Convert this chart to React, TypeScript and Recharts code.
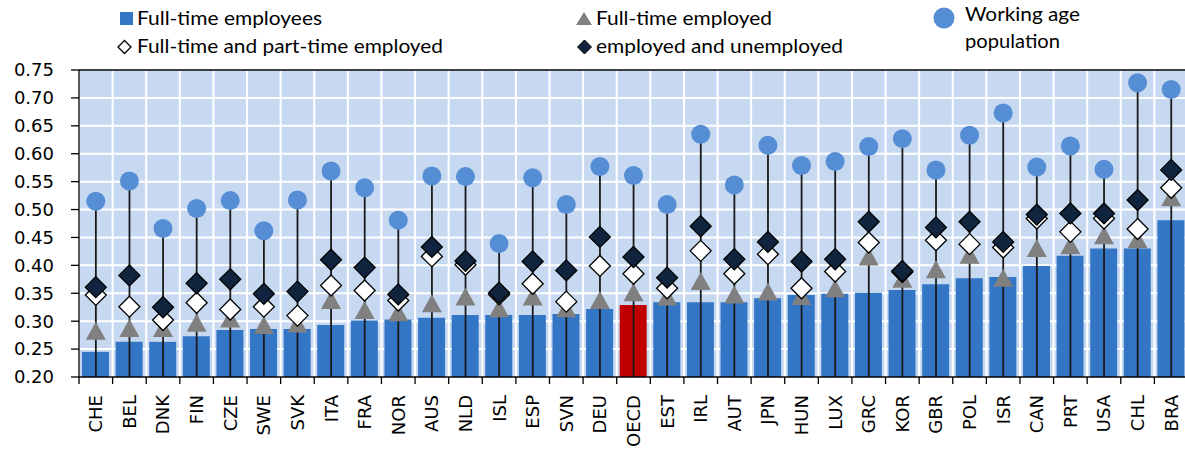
import React from "react";
import {
  Bar,
  CartesianGrid,
  Cell,
  ComposedChart,
  ReferenceLine,
  Scatter,
  XAxis,
  YAxis,
} from "recharts";

const countries = [
  "CHE", "BEL", "DNK", "FIN", "CZE", "SWE", "SVK", "ITA", "FRA", "NOR", "AUS",
  "NLD", "ISL", "ESP", "SVN", "DEU", "OECD", "EST", "IRL", "AUT", "JPN", "HUN",
  "LUX", "GRC", "KOR", "GBR", "POL", "ISR", "CAN", "PRT", "USA", "CHL", "BRA",
];

// Full-time employees (bars)
const fullTimeEmployees = [
  0.245, 0.263, 0.263, 0.273, 0.284, 0.286, 0.286, 0.293, 0.301, 0.303, 0.306,
  0.311, 0.311, 0.311, 0.313, 0.322, 0.329, 0.334, 0.334, 0.334, 0.341, 0.347,
  0.349, 0.351, 0.356, 0.366, 0.377, 0.379, 0.399, 0.417, 0.43, 0.43, 0.481,
];

// Full-time employed (triangles)
const fullTimeEmployed = [
  0.283, 0.288, 0.288, 0.297, 0.305, 0.293, 0.296, 0.338, 0.32, 0.316, 0.332,
  0.344, 0.323, 0.344, 0.323, 0.338, 0.352, 0.344, 0.372, 0.348, 0.353, 0.345,
  0.359, 0.416, 0.376, 0.393, 0.419, 0.378, 0.431, 0.436, 0.454, 0.447, 0.522,
];

// Full-time and part-time employed (white diamonds)
const allEmployed = [
  0.347, 0.326, 0.302, 0.333, 0.321, 0.326, 0.31, 0.364, 0.355, 0.337, 0.416,
  0.401, 0.348, 0.367, 0.335, 0.399, 0.385, 0.359, 0.426, 0.385, 0.42, 0.359,
  0.389, 0.441, 0.388, 0.445, 0.438, 0.432, 0.484, 0.46, 0.484, 0.465, 0.539,
];

// Employed and unemployed (dark diamonds)
const employedUnemployed = [
  0.361, 0.382, 0.325, 0.368, 0.375, 0.349, 0.353, 0.41, 0.396, 0.348, 0.433,
  0.408, 0.351, 0.407, 0.391, 0.451, 0.415, 0.378, 0.47, 0.411, 0.442, 0.407,
  0.411, 0.478, 0.39, 0.468, 0.478, 0.442, 0.491, 0.493, 0.493, 0.517, 0.571,
];

// Working age population (circles)
const workingAge = [
  0.515, 0.551, 0.466, 0.502, 0.516, 0.462, 0.517, 0.569, 0.539, 0.481, 0.56,
  0.559, 0.439, 0.557, 0.509, 0.577, 0.561, 0.509, 0.635, 0.544, 0.615, 0.579,
  0.586, 0.613, 0.627, 0.571, 0.633, 0.673, 0.576, 0.614, 0.572, 0.727, 0.715,
];

const yTicks = [0.2, 0.25, 0.3, 0.35, 0.4, 0.45, 0.5, 0.55, 0.6, 0.65, 0.7, 0.75];

const data = countries.map((name, i) => ({
  name,
  fte: fullTimeEmployees[i],
  fted: fullTimeEmployed[i],
  all: allEmployed[i],
  eu: employedUnemployed[i],
  wap: workingAge[i],
}));

const BAR_BLUE = "#3476C6";
const OECD_RED = "#C00000";
const CIRCLE_BLUE = "#558ED5";
const TRI_GREY = "#808080";
const NAVY = "#10243E";
const FONT = "'DejaVu Sans', sans-serif";
const LEGEND_FONT = "Lato, 'Open Sans', sans-serif";

function Stem(props: any) {
  const { x, y, width, height } = props;
  const cx = x + width / 2;
  return <line x1={cx} x2={cx} y1={y} y2={y + height} stroke="#1a1a1a" strokeWidth={1.8} />;
}

function Triangle({ cx, cy }: any) {
  return <polygon points={`${cx},${cy - 9} ${cx + 10},${cy + 9} ${cx - 10},${cy + 9}`} fill={TRI_GREY} />;
}

function Diamond({ cx, cy, fill }: any) {
  const r = 10.5;
  return (
    <polygon
      points={`${cx},${cy - r} ${cx + r},${cy} ${cx},${cy + r} ${cx - r},${cy}`}
      fill={fill}
      stroke="#000"
      strokeWidth={1.3}
    />
  );
}

function Dot({ cx, cy }: any) {
  return <circle cx={cx} cy={cy} r={9.5} fill={CIRCLE_BLUE} />;
}

function CountryTick(props: any) {
  const { x, y, payload, index } = props;
  const half = payload.offset ?? 0;
  return (
    <g>
      <line x1={x - half} x2={x - half} y1={y} y2={y + 7} stroke="#000" strokeWidth={1.3} />
      {index === countries.length - 1 && (
        <line x1={x + half} x2={x + half} y1={y} y2={y + 7} stroke="#000" strokeWidth={1.3} />
      )}
      <text
        x={x}
        y={y + 18}
        dy="0.36em"
        transform={`rotate(-90, ${x}, ${y + 18})`}
        textAnchor="end"
        fontFamily={FONT}
        fontSize={18}
        fill="#000"
      >
        {payload.value}
      </text>
    </g>
  );
}

function LegendBlock() {
  return (
    <svg width={1185} height={60} style={{ position: "absolute", left: 0, top: 0 }}>
      <rect x={120} y={12} width={13} height={13} fill={BAR_BLUE} />
      <text x={137} y={25} fontFamily={LEGEND_FONT} fontSize={19} fill="#000" textLength={185} lengthAdjust="spacingAndGlyphs">
        Full-time employees
      </text>
      <polygon points="124.5,40.5 131,47 124.5,53.5 118,47" fill="#fff" stroke="#000" strokeWidth={1.3} />
      <text x={137} y={53} fontFamily={LEGEND_FONT} fontSize={19} fill="#000" textLength={306} lengthAdjust="spacingAndGlyphs">
        Full-time and part-time employed
      </text>

      <polygon points="584,12 592,25 576,25" fill={TRI_GREY} />
      <text x={596} y={25} fontFamily={LEGEND_FONT} fontSize={19} fill="#000" textLength={176} lengthAdjust="spacingAndGlyphs">
        Full-time employed
      </text>
      <polygon points="584.5,40 591.5,47 584.5,54 577.5,47" fill={NAVY} stroke="#000" strokeWidth={1} />
      <text x={596} y={53} fontFamily={LEGEND_FONT} fontSize={19} fill="#000" textLength={247} lengthAdjust="spacingAndGlyphs">
        employed and unemployed
      </text>

      <circle cx={944} cy={18} r={10.5} fill={CIRCLE_BLUE} />
      <text x={965} y={21} fontFamily={LEGEND_FONT} fontSize={19} fill="#000" textLength={115} lengthAdjust="spacingAndGlyphs">
        Working age
      </text>
      <text x={965} y={48} fontFamily={LEGEND_FONT} fontSize={19} fill="#000" textLength={95} lengthAdjust="spacingAndGlyphs">
        population
      </text>
    </svg>
  );
}

export default function App() {
  return (
    <div
      style={{
        position: "absolute",
        left: 0,
        top: 0,
        width: 1185,
        height: 451,
        overflow: "hidden",
        background: "#fff",
      }}
    >
      <ComposedChart width={1190} height={451} data={data} margin={{ top: 70, right: 2, bottom: 0, left: 0 }}>
        <CartesianGrid
          fill="#C6D9F1"
          stroke="#fff"
          strokeWidth={2}
          verticalCoordinatesGenerator={({ offset }: any) =>
            Array.from({ length: countries.length + 1 }, (_, i) => offset.left + (i * offset.width) / countries.length)
          }
        />
        <XAxis
          dataKey="name"
          type="category"
          interval={0}
          height={74}
          tickLine={false}
          tickSize={0}
          tickMargin={0}
          axisLine={{ stroke: "#000", strokeWidth: 1.3 }}
          tick={<CountryTick />}
        />
        <XAxis dataKey="name" type="category" xAxisId="stem" hide />
        <YAxis
          domain={[0.2, 0.75]}
          ticks={yTicks}
          interval={0}
          width={79}
          tickSize={8}
          tickMargin={17}
          tickFormatter={(v: number) => v.toFixed(2)}
          axisLine={{ stroke: "#000", strokeWidth: 1.3 }}
          tickLine={{ stroke: "#000", strokeWidth: 1.3 }}
          tick={{ fill: "#000", fontSize: 18, fontFamily: FONT }}
          allowDataOverflow
        />
        <ReferenceLine y={0.75} stroke="#000" strokeWidth={1.3} />
        <Bar dataKey="fte" barSize={27} isAnimationActive={false}>
          {data.map((d) => (
            <Cell key={d.name} fill={d.name === "OECD" ? OECD_RED : BAR_BLUE} />
          ))}
        </Bar>
        <Bar dataKey="wap" xAxisId="stem" shape={<Stem />} isAnimationActive={false} />
        <Scatter dataKey="fted" shape={<Triangle />} isAnimationActive={false} />
        <Scatter dataKey="all" shape={<Diamond fill="#fff" />} isAnimationActive={false} />
        <Scatter dataKey="eu" shape={<Diamond fill={NAVY} />} isAnimationActive={false} />
        <Scatter dataKey="wap" shape={<Dot />} isAnimationActive={false} />
      </ComposedChart>
      <LegendBlock />
    </div>
  );
}
